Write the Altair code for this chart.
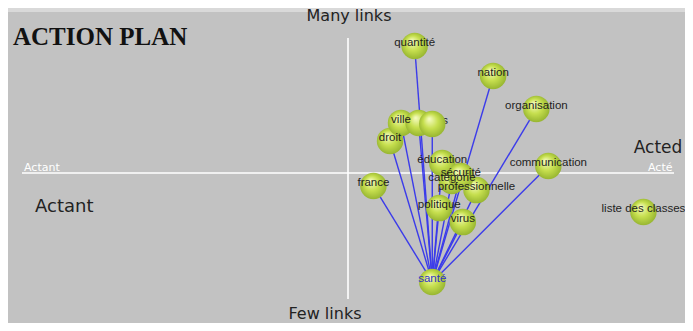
import altair as alt
import pandas as pd

# ---- data ----
node_names = ["quantité", "nation", "organisation", "droit", "ville", "lieu", "temps",
              "france", "catégorie", "éducation", "professionnelle", "sécurité",
              "politique", "virus", "communication", "santé", "liste des classes"]
# x: actant (-) .. acté (+) ; y: few links (-) .. many links (+)
node_x = [0.223, 0.459, 0.589, 0.149, 0.182, 0.235, 0.276,
          0.099, 0.335, 0.306, 0.409, 0.362,
          0.297, 0.368, 0.625, 0.276, 0.911]
node_y = [0.770, 0.588, 0.388, 0.194, 0.303, 0.303, 0.297,
          -0.079, -0.049, 0.060, -0.104, -0.019,
          -0.213, -0.298, 0.042, -0.661, -0.237]
hub = "santé"
linked = ["quantité", "nation", "organisation", "droit", "ville", "lieu", "temps",
          "france", "catégorie", "éducation", "professionnelle", "sécurité",
          "politique", "virus", "communication"]
hidden_labels = ["lieu", "temps"]

nodes = pd.DataFrame({"name": node_names, "x": node_x, "y": node_y})
nodes["order"] = range(len(nodes))
pos = {n: (x, y) for n, x, y in zip(node_names, node_x, node_y)}
edges = pd.DataFrame({
    "x": [pos[hub][0]] * len(linked),
    "y": [pos[hub][1]] * len(linked),
    "x2": [pos[n][0] for n in linked],
    "y2": [pos[n][1] for n in linked],
})

W, H = 677, 315
xs = alt.Scale(domain=[-1, 1], nice=False, zero=False)
ys = alt.Scale(domain=[-0.91, 1.0], nice=False, zero=False)
X = alt.X("x:Q", scale=xs, axis=None)
Y = alt.Y("y:Q", scale=ys, axis=None)

one = pd.DataFrame({"a": [0]})

strip = alt.Chart(one).mark_rect(color="#d9d9d9").encode(
    x=alt.value(0), x2=alt.value(W), y=alt.value(0), y2=alt.value(4))

hline = alt.Chart(one).mark_rule(color="white", strokeWidth=1.6).encode(
    x=alt.value(14), x2=alt.value(666), y=alt.value(165))
vline = alt.Chart(one).mark_rule(color="white", strokeWidth=1.6).encode(
    x=alt.value(340), y=alt.value(30), y2=alt.value(291))

edge_layer = alt.Chart(edges).mark_rule(color="#3b3bea", strokeWidth=1.4).encode(
    x=X, y=Y, x2="x2:Q", y2="y2:Q")

lbl = dict(font="Liberation Sans", fontSize=11.5, dy=-3, align="center", baseline="middle")

hidden = alt.Chart(nodes[nodes["name"].isin(hidden_labels)]).mark_text(
    color="#1e1e1e", **lbl).encode(x=X, y=Y, text="name:N")

grad = {"gradient": "radial", "x1": 0.38, "y1": 0.3, "r1": 0.0,
        "x2": 0.5, "y2": 0.5, "r2": 0.56,
        "stops": [{"offset": 0.0, "color": "#f8fdc8"},
                  {"offset": 0.5, "color": "#c6df4e"},
                  {"offset": 1.0, "color": "#8fae2c"}]}
balls = alt.Chart(nodes).mark_circle(size=700, opacity=1, fill=grad, stroke=None).encode(
    x=X, y=Y, order="order:Q")

labels = alt.Chart(nodes[~nodes["name"].isin(hidden_labels)]).mark_text(**lbl).encode(
    x=X, y=Y, text="name:N",
    color=alt.condition(alt.datum.name == hub, alt.value("#3232c8"), alt.value("#1e1e1e")))

def txt(s, x, y, size, color="#222222", align="left", font="DejaVu Sans", weight="normal"):
    return alt.Chart(pd.DataFrame({"t": [s]})).mark_text(
        align=align, baseline="alphabetic", fontSize=size, font=font,
        fontWeight=weight, color=color).encode(
        x=alt.value(x), y=alt.value(y), text="t:N")

texts = [
    txt("ACTION PLAN", 5, 37, 25, color="#111111", font="Liberation Serif", weight="bold"),
    txt("Many links", 341, 13, 16, align="center"),
    txt("Few links", 317, 311, 16, align="center"),
    txt("Acted", 650, 145, 17, align="center"),
    txt("Actant", 27, 204, 18),
    txt("Actant", 16, 163, 11, color="white"),
    txt("Acté", 640, 163, 11, color="white"),
]

chart = alt.layer(strip, hline, vline, edge_layer, hidden, balls, labels, *texts).properties(
    width=W, height=H, background="#c2c2c2", padding=0,
    autosize=alt.AutoSizeParams(type="fit", contains="padding"),
).configure_view(strokeWidth=0)

chart.save("out.html", embed_options={"renderer": "svg", "actions": False})
